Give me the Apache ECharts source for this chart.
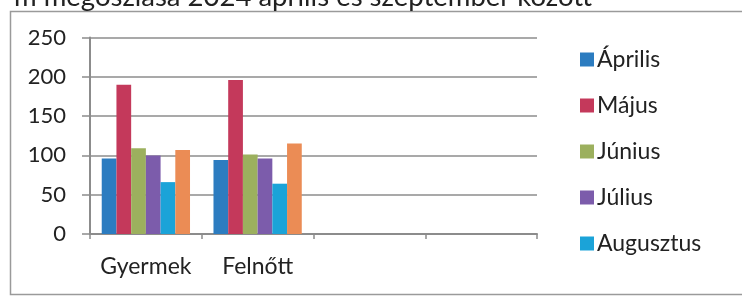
<!DOCTYPE html>
<html>
<head>
<meta charset="utf-8">
<script src="https://cdn.jsdelivr.net/npm/echarts@6/dist/echarts.min.js"></script>
<style>
  html, body { margin: 0; padding: 0; background: #fff; }
  #chart { width: 742px; height: 296px; }
</style>
</head>
<body>
<div id="chart"></div>
<script>
const categories = ["Gyermek", "Felnőtt", "", ""];
const seriesNames = ["Április", "Május", "Június", "Július", "Augusztus", "Szeptember"];
const legendNames = ["Április", "Május", "Június", "Július", "Augusztus"];
const aprilis = [96, 94];
const majus = [190, 196];
const junius = [109, 101];
const julius = [100, 96];
const augusztus = [66, 64];
const szeptember = [107, 115];
const yTicks = [0, 50, 100, 150, 200, 250];

const seriesValues = [aprilis, majus, junius, julius, augusztus, szeptember];
const colors = ["#2c7cc0", "#c4395b", "#9cb05e", "#7c5cab", "#1ba3d8", "#eb8c55"];
const fontFamily = "Lato, 'Open Sans', sans-serif";
const lineGrey = "#8c8c8c";

const chart = echarts.init(document.getElementById("chart"), null, { renderer: "canvas" });

chart.setOption({
  animation: false,
  color: colors,
  textStyle: { fontFamily },
  graphic: [
    {
      type: "rect",
      shape: { x: 10.5, y: 11.5, width: 760, height: 283 },
      style: { fill: "none", stroke: "#9a9a9a", lineWidth: 1.5 },
      silent: true,
    },
    {
      type: "text",
      x: 14,
      y: -17,
      style: {
        text: "m megoszlása 2024 április és szeptember között",
        font: "27.5px " + fontFamily,
        fill: "#222",
      },
      silent: true,
    },
  ],
  grid: { left: 90, right: 205, top: 37.5, bottom: 62, containLabel: false },
  legend: {
    data: legendNames,
    orient: "vertical",
    left: 575,
    top: 43,
    itemWidth: 14,
    itemHeight: 14,
    itemGap: 23,
    icon: "rect",
    textStyle: { fontSize: 23, lineHeight: 22, color: "#222", fontFamily, padding: [0, 0, 0, -2] },
  },
  xAxis: {
    type: "category",
    data: categories,
    axisLine: { lineStyle: { color: lineGrey, width: 2 } },
    axisTick: { show: true, length: 5, inside: false, lineStyle: { color: lineGrey, width: 1.5 } },
    axisLabel: { fontSize: 23, color: "#222", margin: 21, interval: 0 },
    splitLine: { show: false },
  },
  yAxis: {
    type: "value",
    min: 0,
    max: yTicks[yTicks.length - 1],
    interval: 50,
    axisLine: { show: true, lineStyle: { color: lineGrey, width: 2 } },
    axisTick: { show: true, length: 8, lineStyle: { color: lineGrey, width: 1.5 } },
    axisLabel: { fontSize: 22, color: "#222", margin: 24 },
    splitLine: { show: true, lineStyle: { color: lineGrey, width: 1.5 } },
  },
  series: seriesNames.map((name, i) => ({
    name,
    type: "bar",
    data: seriesValues[i],
    barGap: "0%",
    barCategoryGap: "21%",
    itemStyle: { color: colors[i] },
  })),
});
</script>
</body>
</html>
